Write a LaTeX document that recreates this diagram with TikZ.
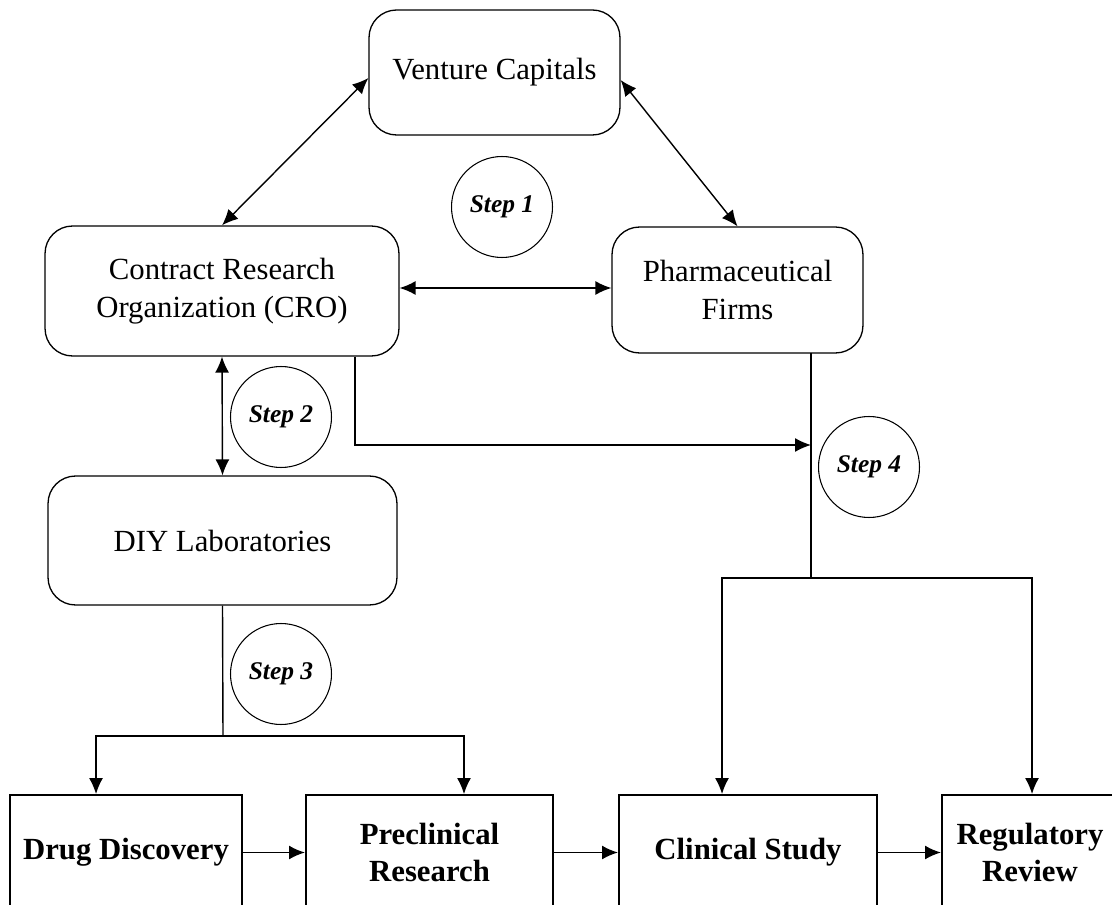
\documentclass[tikz,border=0pt]{standalone}
\usepackage{fontspec}
\setmainfont{Liberation Serif}
\usetikzlibrary{arrows.meta}

\tikzset{
  roundbox/.style={draw, line width=0.75pt, rounded corners=0.55cm, align=center,
    font=\fontsize{17.5}{21.5}\selectfont, inner sep=0pt},
  stagebox/.style={draw, line width=1.1pt, align=center, inner sep=0pt,
    minimum height=2.3cm, font=\fontsize{17.5}{21.5}\selectfont\bfseries},
  stepmark/.style={draw, circle, line width=0.6pt, minimum size=2.02cm, inner sep=0pt,
    font=\fontsize{14.5}{17}\selectfont\bfseries\itshape},
  link/.style={line width=0.8pt},
  tip/.tip={Latex[length=0.32cm, width=0.28cm]},
  arr/.style={link, -tip},
  biarr/.style={link, tip-tip},
  flow/.style={line width=1.1pt, -tip},
}

\begin{document}
\begin{tikzpicture}[x=0.02cm, y=-0.02cm]
  \useasboundingbox (0,0) rectangle (1112,905);
  \clip (0,0) rectangle (1112,905);
  \fill[white] (0,0) rectangle (1112,905);

  % upper actors
  \node[roundbox, minimum width=5.02cm, minimum height=2.5cm] (vc) at (494.5,72.5) {Venture Capitals};
  \node[roundbox, minimum width=7.08cm, minimum height=2.6cm] (cro) at (222,291)
    {Contract Research\\Organization (CRO)};
  \node[roundbox, minimum width=5.02cm, minimum height=2.52cm] (ph) at (737.5,290)
    {Pharmaceutical\\Firms};
  \node[roundbox, minimum width=6.98cm, minimum height=2.58cm] (diy) at (222.5,540.5) {DIY Laboratories};

  % step markers
  \node[stepmark] (s1) at (502,207) {Step 1};
  \node[stepmark] (s2) at (281,417) {Step 2};
  \node[stepmark] (s3) at (281,674) {Step 3};
  \node[stepmark] (s4) at (869,467) {Step 4};

  % pipeline stages
  \node[stagebox, minimum width=4.64cm] (drug) at (126,852.5) {Drug Discovery};
  \node[stagebox, minimum width=4.94cm] (pre) at (429.5,852.5) {Preclinical\\Research};
  \node[stagebox, minimum width=5.16cm] (clin) at (748,852.5) {Clinical Study};
  \node[stagebox, minimum width=3.52cm] (reg) at (1030,852.5) {Regulatory\\Review};

  % junction points
  \coordinate (phdrop) at (811,353);
  \coordinate (in4) at (811,445);
  \coordinate (hub4) at (811,578);
  \coordinate (hub3) at (223,736);

  % step 1 links
  \draw[biarr] (cro.north) -- ([yshift=-0.11cm]vc.west);
  \draw[biarr] ([yshift=-0.15cm]vc.east) -- (ph.north);
  \draw[biarr] ([yshift=0.06cm]cro.east) -- ([yshift=0.06cm]cro.east -| ph.west);

  % step 2 link
  \draw[biarr] (cro.south) -- (diy.north);

  % step 3 branches
  \draw[link] (diy.south) -- (hub3);
  \draw[arr] (hub3) -| ([xshift=-0.6cm]drug.north);
  \draw[arr] (hub3) -| ([xshift=0.69cm]pre.north);

  % step 4 branches
  \draw[arr] ([xshift=2.66cm]cro.south) |- (in4);
  \draw[link] (phdrop) -- (hub4);
  \draw[arr] (hub4) -| ([xshift=-0.52cm]clin.north);
  \draw[arr] (hub4) -| ([xshift=0.04cm]reg.north);

  % pipeline flow
  \draw[flow] (drug) -- (pre);
  \draw[flow] (pre) -- (clin);
  \draw[flow] (clin) -- (reg);
\end{tikzpicture}
\end{document}
